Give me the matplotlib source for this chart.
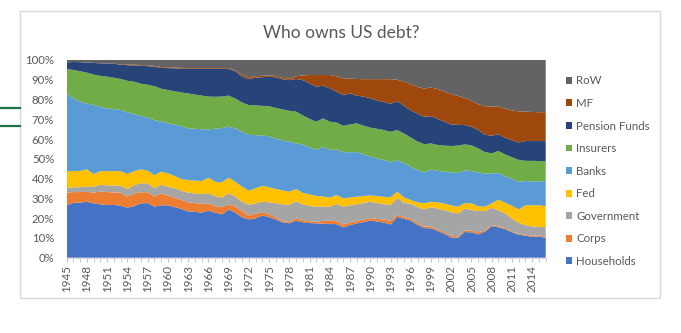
import numpy as np
import matplotlib
matplotlib.use("Agg")
import matplotlib.pyplot as plt
from matplotlib.patches import Patch, Rectangle
from matplotlib.lines import Line2D
from matplotlib.ticker import FuncFormatter, MultipleLocator

# shares of US debt by holder (percent)
years = list(range(1945, 2017))

households = [26.6, 27.7, 27.9, 28.3, 27.5, 27.0, 26.6, 26.7, 26.3, 25.3,
              26.1, 27.5, 27.6, 25.8, 26.5, 26.5, 25.6, 24.6, 23.4, 23.2,
              22.8, 23.8, 22.8, 21.9, 24.3, 22.8, 20.4, 19.4, 19.9, 21.4,
              20.5, 19.3, 17.8, 17.4, 18.7, 17.9, 17.5, 17.4, 17.2, 17.0,
              17.0, 15.3, 16.5, 17.4, 18.0, 18.8, 18.3, 17.8, 16.8, 20.6,
              19.6, 18.8, 16.6, 15.0, 14.8, 13.5, 12.0, 10.2, 10.1, 13.0,
              12.8, 11.8, 13.2, 16.0, 15.3, 14.4, 12.8, 11.6, 11.2, 10.5,
              10.8, 10.0]
corps = [6.3, 5.5, 5.3, 5.0, 5.4, 6.4, 6.6, 6.3, 6.6, 5.6,
         6.4, 5.6, 5.5, 5.1, 6.0, 4.9, 4.8, 4.6, 4.6, 4.4,
         4.4, 3.7, 3.3, 3.6, 2.7, 3.0, 3.2, 1.9, 2.4, 1.7,
         1.5, 1.2, 0.7, 0.6, 1.2, 1.1, 0.9, 0.8, 1.4, 1.7,
         1.4, 1.5, 1.3, 1.2, 1.3, 1.2, 1.3, 1.5, 1.8, 1.0,
         1.0, 0.8, 1.0, 0.8, 0.9, 0.7, 0.8, 1.0, 0.6, 0.8,
         0.8, 1.0, 0.6, 0.5, 0.5, 0.5, 0.5, 0.4, 0.5, 0.5,
         0.5, 0.5]
government = [2.5, 2.4, 2.5, 2.6, 3.1, 3.4, 3.4, 3.5, 3.4, 3.8,
              4.3, 4.5, 4.5, 4.2, 4.3, 4.5, 4.7, 4.7, 4.9, 4.9,
              5.0, 5.0, 5.1, 4.9, 5.5, 5.1, 4.7, 5.5, 5.2, 5.3,
              6.0, 7.1, 8.5, 8.7, 8.6, 8.0, 7.8, 7.6, 7.3, 7.1,
              8.8, 9.0, 8.7, 8.4, 8.4, 8.3, 8.1, 7.8, 8.0, 8.6,
              7.2, 7.6, 8.0, 8.7, 9.8, 10.6, 11.2, 11.8, 11.7, 11.0,
              10.6, 10.8, 9.8, 8.7, 8.2, 7.5, 6.5, 5.6, 4.8, 4.8,
              4.3, 5.0]
fed = [8.4, 8.2, 8.2, 8.8, 6.3, 7.0, 7.2, 7.3, 7.5, 7.6,
       7.0, 7.1, 6.4, 6.7, 6.7, 6.8, 6.2, 5.9, 6.4, 6.5,
       6.6, 8.0, 7.2, 7.7, 8.0, 7.5, 7.6, 7.1, 7.6, 8.0,
       7.6, 7.2, 7.0, 6.7, 6.2, 5.8, 5.8, 5.4, 5.1, 4.6,
       4.5, 4.2, 4.0, 3.9, 3.5, 3.2, 3.5, 3.7, 3.9, 3.2,
       2.7, 2.0, 2.4, 3.0, 2.8, 3.2, 3.4, 3.5, 3.4, 2.8,
       3.3, 2.4, 2.2, 2.3, 5.4, 5.4, 6.5, 6.8, 10.1, 10.7,
       11.0, 10.5]
banks = [39.3, 36.8, 35.0, 33.4, 34.9, 32.6, 31.7, 31.4, 30.9, 31.2,
         28.8, 27.1, 26.8, 27.8, 25.3, 25.3, 26.0, 26.8, 26.1, 26.2,
         26.2, 24.4, 26.8, 27.5, 25.8, 27.0, 27.8, 28.2, 26.9, 25.5,
         25.8, 25.5, 25.3, 25.2, 23.1, 24.5, 23.8, 23.3, 25.2, 24.1,
         23.1, 23.3, 22.9, 22.5, 21.1, 19.7, 19.0, 18.6, 17.8, 16.0,
         17.3, 16.8, 16.4, 15.6, 16.3, 15.9, 16.1, 16.7, 17.0, 16.6,
         16.3, 17.2, 16.7, 15.2, 13.4, 13.5, 13.5, 14.0, 12.2, 12.0,
         12.0, 12.8]
insurers = [12.3, 14.4, 15.4, 15.5, 15.4, 15.6, 16.1, 15.8, 15.7, 16.0,
            16.4, 16.2, 16.7, 17.2, 16.7, 16.8, 16.9, 17.0, 17.7, 17.3,
            17.0, 16.6, 16.2, 15.9, 15.7, 15.1, 14.8, 15.1, 15.0, 15.0,
            15.2, 15.5, 15.7, 15.7, 16.1, 14.7, 14.4, 14.3, 14.3, 14.3,
            13.6, 13.4, 14.0, 14.6, 14.5, 14.6, 15.0, 15.2, 15.4, 15.2,
            15.0, 14.8, 14.4, 14.3, 13.2, 13.1, 13.2, 13.3, 13.9, 13.1,
            13.0, 12.1, 10.9, 10.1, 11.2, 10.9, 11.0, 11.1, 10.2, 10.5,
            10.3, 9.9]
pension = [3.4, 4.0, 4.6, 5.1, 5.9, 6.3, 6.6, 7.1, 7.2, 7.9,
           8.2, 9.1, 9.4, 9.8, 10.5, 11.1, 11.6, 12.0, 12.4, 13.0,
           13.5, 14.0, 14.1, 14.0, 13.5, 13.8, 13.1, 13.1, 14.0, 14.5,
           14.9, 15.4, 15.2, 15.5, 16.5, 17.8, 18.0, 17.7, 16.5, 16.9,
           15.6, 15.6, 15.7, 14.0, 14.7, 14.8, 14.3, 14.2, 14.1, 14.6,
           14.0, 13.7, 14.0, 13.9, 13.8, 13.2, 12.1, 10.9, 10.5, 9.8,
           9.4, 9.3, 8.8, 8.9, 8.4, 8.4, 8.6, 8.8, 10.0, 10.0,
           10.1, 10.3]
mf = [0.0, 0.0, 0.0, 0.0, 0.0, 0.0, 0.0, 0.0, 0.3, 0.4,
      0.4, 0.4, 0.4, 0.4, 0.4, 0.4, 0.4, 0.4, 0.4, 0.4,
      0.4, 0.4, 0.4, 0.4, 0.4, 0.5, 0.9, 0.9, 0.8, 0.7,
      0.7, 0.8, 0.8, 0.8, 1.4, 2.4, 4.2, 5.9, 5.4, 6.7,
      7.8, 8.4, 7.5, 8.4, 8.8, 9.7, 10.8, 11.5, 12.5, 10.8,
      12.2, 13.3, 13.6, 14.2, 14.5, 15.1, 15.2, 15.4, 14.6, 13.7,
      13.3, 13.0, 14.4, 14.7, 14.2, 14.7, 15.1, 15.7, 14.9, 14.7,
      14.6, 14.6]
row = [1.2, 1.0, 1.1, 1.3, 1.5, 1.7, 1.8, 1.9, 2.1, 2.2,
       2.4, 2.5, 2.7, 3.0, 3.6, 3.7, 3.8, 4.0, 4.1, 4.1,
       4.1, 4.1, 4.1, 4.1, 4.1, 5.2, 7.5, 8.8, 8.2, 8.0,
       7.8, 8.0, 9.0, 9.4, 8.2, 7.8, 7.6, 7.6, 7.6, 7.6,
       8.2, 9.3, 9.4, 9.6, 9.7, 9.7, 9.7, 9.7, 9.7, 10.0,
       11.0, 12.2, 13.6, 14.5, 13.9, 14.7, 16.0, 17.2, 18.2, 19.2,
       20.5, 22.4, 23.4, 23.6, 23.4, 24.7, 25.5, 26.0, 26.1, 26.3,
       26.4, 26.4]

labels = ["Households", "Corps", "Government", "Fed", "Banks",
          "Insurers", "Pension Funds", "MF", "RoW"]
colors = ["#4472C4", "#ED7D31", "#A5A5A5", "#FFC000", "#5B9BD5",
          "#70AD47", "#264478", "#9E480E", "#636363"]

data = np.array([households, corps, government, fed, banks,
                 insurers, pension, mf, row])
shares = data / data.sum(axis=0)  # 100% stacked

plt.rcParams["font.family"] = ["Lato", "DejaVu Sans"]
txt = "#595959"

fig = plt.figure(figsize=(6.81, 3.33), dpi=100)
ax = fig.add_axes([66.7 / 681, 75.3 / 333, 479 / 681, 197.7 / 333])

ax.stackplot(years, shares, colors=colors, labels=labels, linewidth=0)

ax.set_xlim(1945, 2016)
ax.set_ylim(0, 1)
ax.yaxis.set_major_locator(MultipleLocator(0.1))
ax.yaxis.set_major_formatter(FuncFormatter(lambda v, p: f"{v:.0%}"))
ax.xaxis.set_major_locator(MultipleLocator(3, offset=1945 % 3))
ax.xaxis.set_minor_locator(MultipleLocator(1))
ax.xaxis.set_major_formatter(FuncFormatter(lambda v, p: f"{int(round(v))}"))

for s in ["top", "right", "left"]:
    ax.spines[s].set_visible(False)
ax.spines["bottom"].set_color("#d9d9d9")
ax.tick_params(axis="y", length=0, pad=9, labelsize=8.2, labelcolor=txt)
ax.tick_params(axis="x", which="both", length=3, color="#bfbfbf",
               labelsize=8.4, labelcolor=txt, rotation=90, pad=2)

handles = [Patch(facecolor=c, edgecolor="none") for c in colors][::-1]
fig.legend(handles, labels[::-1], loc="upper left",
           bbox_to_anchor=(566 / 681, 1 - 75.5 / 333), frameon=False,
           fontsize=8.3, labelcolor=txt, handlelength=0.55, handleheight=0.55,
           handletextpad=0.35, labelspacing=1.0, borderpad=0, borderaxespad=0)

fig.text(341 / 681, 1 - 33 / 333, "Who owns US debt?", ha="center",
         va="center", fontsize=12.5, color=txt)

# chart frame and the two stray green lines at the left edge
fig.add_artist(Rectangle((20 / 681, 35 / 333), 640 / 681, 287 / 333,
                         fill=False, ec="#d9d9d9", lw=1,
                         transform=fig.transFigure))
for yy in (108.3, 125.7):
    fig.add_artist(Line2D([0, 20 / 681], [1 - yy / 333, 1 - yy / 333],
                          color="#217346", lw=1.6, transform=fig.transFigure))

fig.savefig("out.png", dpi=100)
